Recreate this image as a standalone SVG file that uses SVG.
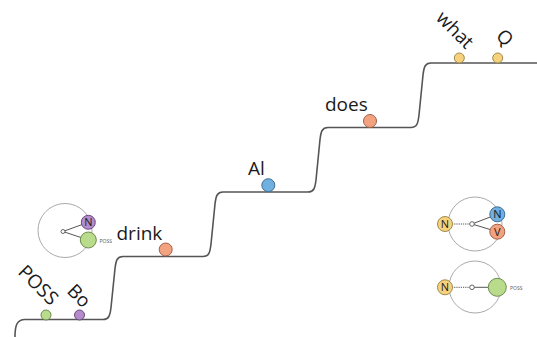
<svg xmlns="http://www.w3.org/2000/svg" width="537" height="337" viewBox="0 0 537 337">
<style>
.lbl{font-family:"Open Sans","Liberation Sans",sans-serif;font-size:19px;fill:#1a1a1a}
.nl{font-family:"Open Sans","Liberation Sans",sans-serif;font-size:11px;fill:#1a1a1a;text-anchor:middle}
.sm{font-family:"Open Sans","Liberation Sans",sans-serif;font-size:5px;fill:#555}
.stair{fill:none;stroke:#555;stroke-width:1.6}
.big{fill:none;stroke:#aaa;stroke-width:1}
.hub{fill:#fff;stroke:#555;stroke-width:0.9}
.ln{stroke:#555;stroke-width:1}
.dot{stroke:#555;stroke-width:1;stroke-dasharray:1.2 1}
.g{fill:#b9dc8c;stroke:#6d8a50;stroke-width:1}
.p{fill:#b48ccc;stroke:#6a4a80;stroke-width:1}
.o{fill:#f2a27f;stroke:#a0604a;stroke-width:1}
.b{fill:#6fb0e0;stroke:#3d6d92;stroke-width:1}
.y{fill:#f7d27e;stroke:#a08a4a;stroke-width:1}
</style>
<g id="connectors">
<path class="stair" d="M15,337 C15,325 17,319.5 25,319.5 L103,319.5 C109,319.5 110,315.5 111,307.5 L115,268.5 C116,260.5 117,256.5 123,256.5 L203,256.5 C209,256.5 210,252.5 211,244 L215,204 C216,196 217,192 223,192 L308,192 C314,192 315,188 316,180 L320,139.5 C321,131.5 322,127.5 328,127.5 L411,127.5 C417,127.5 418,123.5 419,115 L423,75 C424,67 425,63 431,63 L537,63"/>
</g>
<g id="poss">
<circle class="g" cx="46" cy="315" r="5"/>
<text class="lbl" transform="translate(17,273) rotate(45)">POSS</text>
</g>
<g id="bo">
<circle class="p" cx="79.5" cy="315" r="5"/>
<text class="lbl" transform="translate(66,292) rotate(45)">Bo</text>
</g>
<g id="drink">
<circle class="o" cx="165.7" cy="249.5" r="6.5"/>
<text class="lbl" x="116.5" y="240">drink</text>
</g>
<g id="al">
<circle class="b" cx="268.3" cy="185.2" r="6.5"/>
<text class="lbl" x="248" y="175">Al</text>
</g>
<g id="does">
<circle class="o" cx="370" cy="121" r="6.5"/>
<text class="lbl" x="325" y="111">does</text>
</g>
<g id="what">
<circle class="y" cx="459.3" cy="58" r="5"/>
<text class="lbl" transform="translate(435,19) rotate(45)">what</text>
</g>
<g id="q">
<circle class="y" cx="497.7" cy="58" r="5"/>
<text class="lbl" transform="translate(495,37) rotate(45)">Q</text>
</g>
<g id="legend-poss-bo">
<circle class="big" cx="65" cy="230.5" r="27"/>
<line class="ln" x1="63" y1="231.5" x2="88.3" y2="222.3"/>
<line class="ln" x1="63" y1="231.5" x2="88.3" y2="240"/>
<circle class="hub" cx="63" cy="231.5" r="2"/>
<circle class="p" cx="88.3" cy="222.3" r="7"/>
<text class="nl" x="88.3" y="226.3">N</text>
<circle class="g" cx="88.3" cy="240" r="8"/>
<text class="sm" x="99.5" y="243.3">POSS</text>
</g>
<g id="legend-nvq">
<circle class="big" cx="475" cy="224" r="27"/>
<line class="dot" x1="452" y1="224" x2="470" y2="224"/>
<line class="ln" x1="472" y1="224" x2="497.3" y2="214.3"/>
<line class="ln" x1="472" y1="224" x2="497.3" y2="231.7"/>
<circle class="hub" cx="472" cy="224" r="2.3"/>
<circle class="y" cx="445" cy="224" r="7.5"/>
<text class="nl" x="445" y="228">N</text>
<circle class="b" cx="497.3" cy="214.3" r="7.5"/>
<text class="nl" x="497.3" y="218.3">N</text>
<circle class="o" cx="497.3" cy="231.7" r="7.5"/>
<text class="nl" x="497.3" y="235.7">V</text>
</g>
<g id="legend-nposs">
<circle class="big" cx="475" cy="287" r="26"/>
<line class="dot" x1="452" y1="287.3" x2="470" y2="287.3"/>
<line class="ln" x1="472" y1="287.3" x2="488" y2="287.3"/>
<circle class="hub" cx="472" cy="287.3" r="2.3"/>
<circle class="y" cx="445" cy="287.3" r="7.5"/>
<text class="nl" x="445" y="291.3">N</text>
<circle class="g" cx="497.3" cy="287.3" r="9"/>
<text class="sm" x="510" y="289.5">POSS</text>
</g>
</svg>
